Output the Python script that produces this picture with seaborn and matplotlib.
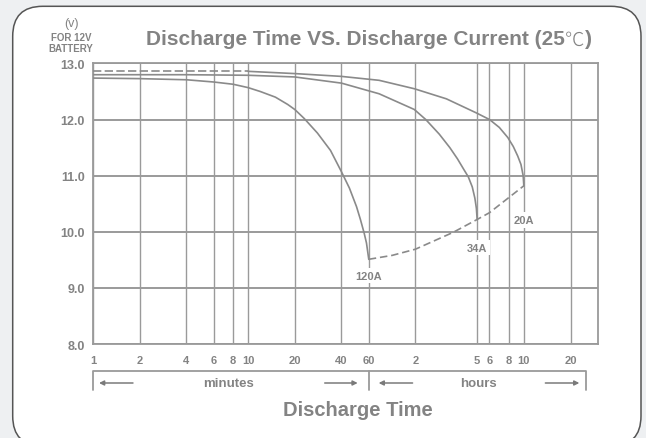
import numpy as np
import pandas as pd
import matplotlib
matplotlib.use('Agg')
import matplotlib.pyplot as plt
import matplotlib.transforms as mtransforms
from matplotlib.patches import FancyBboxPatch
from matplotlib.offsetbox import TextArea, HPacker, AnnotationBbox
import seaborn as sns

# discharge curves, time in minutes, voltage for 12V battery
t_120 = [1, 2, 4, 6, 8, 10, 12, 15, 18, 20, 23, 28, 34, 40, 45, 50, 53, 56, 58, 60]
v_120 = [12.74, 12.73, 12.71, 12.67, 12.63, 12.57, 12.50, 12.40, 12.27, 12.18, 12.02, 11.76,
         11.45, 11.07, 10.78, 10.45, 10.22, 9.98, 9.80, 9.51]

t_34 = [1, 4, 10, 20, 40, 70, 118, 140, 171, 200, 224, 245, 263, 279, 290, 296.5, 300]
v_34 = [12.80, 12.80, 12.79, 12.76, 12.65, 12.46, 12.18, 12.0, 11.74, 11.50, 11.30, 11.12,
        10.98, 10.80, 10.60, 10.42, 10.22]

t_20 = [10, 20, 40, 70, 118, 190, 296, 361, 417, 473, 513, 548, 575, 594, 600]
v_20 = [12.86, 12.82, 12.77, 12.70, 12.55, 12.37, 12.12, 12.0, 11.86, 11.68, 11.52, 11.35,
        11.20, 11.0, 10.82]
t_20_start = [1, 10]
v_20_start = [12.86, 12.86]

# end voltage line
t_end = [60, 85, 120, 210, 300, 360, 600]
v_end = [9.51, 9.58, 9.69, 9.99, 10.22, 10.34, 10.82]

currents = ['120A', '34A', '20A']

x_ticks = [1, 2, 4, 6, 8, 10, 20, 40, 60, 120, 300, 360, 480, 600, 1200]
x_labels = ['1', '2', '4', '6', '8', '10', '20', '40', '60', '2', '5', '6', '8', '10', '20']
y_ticks = [8.0, 9.0, 10.0, 11.0, 12.0, 13.0]

sns.set_style('white')
plt.rcParams['font.family'] = ['Liberation Sans', 'DejaVu Sans']

grey = '#9a9a9a'
line_c = '#8a8a8a'
txt = '#838383'

fig = plt.figure(figsize=(6.46, 4.39), dpi=100)
fig.patch.set_facecolor('#eef0f2')

# rounded white frame
box = FancyBboxPatch((12.7, -8), 628.3, 439.7, boxstyle='round,pad=0,rounding_size=30',
                     transform=mtransforms.IdentityTransform(), facecolor='white',
                     edgecolor='#555555', linewidth=1.1, zorder=-10)
fig.add_artist(box)

ax = fig.add_axes([0.144, 0.2141, 0.782, 0.639])
ax.set_xscale('log')
ax.set_xlim(1, 1810)
ax.set_ylim(8, 13)

for xv in x_ticks:
    ax.axvline(xv, color=grey, lw=1.0, zorder=1)
for yv in y_ticks:
    ax.axhline(yv, color=grey, lw=1.4, zorder=1)

df120 = pd.DataFrame({'t': t_120, 'v': v_120})
df34 = pd.DataFrame({'t': t_34, 'v': v_34})
df20 = pd.DataFrame({'t': t_20, 'v': v_20})
sns.lineplot(data=df120, x='t', y='v', ax=ax, color=line_c, lw=1.2, sort=False, zorder=3)
sns.lineplot(data=df34, x='t', y='v', ax=ax, color=line_c, lw=1.2, sort=False, zorder=3)
sns.lineplot(data=df20, x='t', y='v', ax=ax, color=line_c, lw=1.2, sort=False, zorder=3)
ax.plot(t_20_start, v_20_start, color=line_c, lw=1.2, ls=(0, (5, 2)), zorder=3)
ax.plot(t_end, v_end, color=line_c, lw=1.2, ls=(0, (4.5, 2.3)), zorder=3)

# current labels under the end points
ends = [(t_120[-1], v_120[-1]), (t_34[-1], v_34[-1]), (t_20[-1], v_20[-1])]
offs = [0.29, 0.50, 0.61]
for (te, ve), lab, o in zip(ends, currents, offs):
    ax.text(te, ve - o, lab, ha='center', va='center', fontsize=8, fontweight='bold',
            color=txt, zorder=4,
            bbox=dict(boxstyle='square,pad=0.25', fc='white', ec='none'))

ax.set_xticks(x_ticks)
ax.set_xticklabels(x_labels)
ax.xaxis.set_minor_locator(matplotlib.ticker.NullLocator())
ax.set_yticks(y_ticks)
ax.set_yticklabels(['%.1f' % y for y in y_ticks])
ax.tick_params(axis='x', length=0, pad=8, labelsize=8, labelcolor=txt)
ax.tick_params(axis='y', length=0, pad=6, labelsize=9, labelcolor=txt)
for lab in ax.get_xticklabels() + ax.get_yticklabels():
    lab.set_fontweight('bold')
for sp in ax.spines.values():
    sp.set_color(grey)
    sp.set_linewidth(1.3)
ax.set_xlabel('')
ax.set_ylabel('')

# minutes / hours bracket
tr = mtransforms.blended_transform_factory(ax.transData, ax.transAxes)
ax.plot([1, 1, 1510, 1510], [-0.1636, -0.0973, -0.0973, -0.1636], color=grey, lw=1.3,
        transform=tr, clip_on=False)
ax.plot([60, 60], [-0.0973, -0.1636], color=grey, lw=1.3, transform=tr, clip_on=False)
arrows = [(1.81, 1.093), (31.2, 50.9), (115, 69.5), (826, 1368)]
for a, b in arrows:
    ax.annotate('', xy=(b, -0.139), xytext=(a, -0.139), xycoords=tr, textcoords=tr,
                arrowprops=dict(arrowstyle='-|>', color='#7a7a7a', lw=1.1,
                                mutation_scale=7, shrinkA=0, shrinkB=0))
ax.text(7.5, -0.139, 'minutes', transform=tr, ha='center', va='center',
        fontsize=9.5, fontweight='bold', color=txt)
ax.text(306, -0.139, 'hours', transform=tr, ha='center', va='center',
        fontsize=9.5, fontweight='bold', color=txt)

fig.text(0.554, 0.0645, 'Discharge Time', ha='center', va='center', fontsize=14.5,
         fontweight='bold', color=txt)

# title, with a thin degree-celsius sign
parts = [TextArea('Discharge Time VS. Discharge Current (25',
                  textprops=dict(fontsize=15, fontweight='bold', color=txt)),
         TextArea('\u2103', textprops=dict(fontsize=14, fontweight='light', color=txt,
                                           family=['Noto Sans CJK JP', 'DejaVu Sans'])),
         TextArea(')', textprops=dict(fontsize=15, fontweight='bold', color=txt))]
title = HPacker(children=parts, align='baseline', pad=0, sep=0)
fig.add_artist(AnnotationBbox(title, (0.571, 0.909), xycoords='figure fraction',
                              frameon=False, box_alignment=(0.5, 0.5)))

fig.text(0.11, 0.945, '(v)', ha='center', va='center', fontsize=9, color=txt)
fig.text(0.11, 0.914, 'FOR 12V', ha='center', va='center', fontsize=7, fontweight='bold', color=txt)
fig.text(0.11, 0.888, 'BATTERY', ha='center', va='center', fontsize=7, fontweight='bold', color=txt)

fig.savefig('out.png', dpi=100, facecolor=fig.get_facecolor())
